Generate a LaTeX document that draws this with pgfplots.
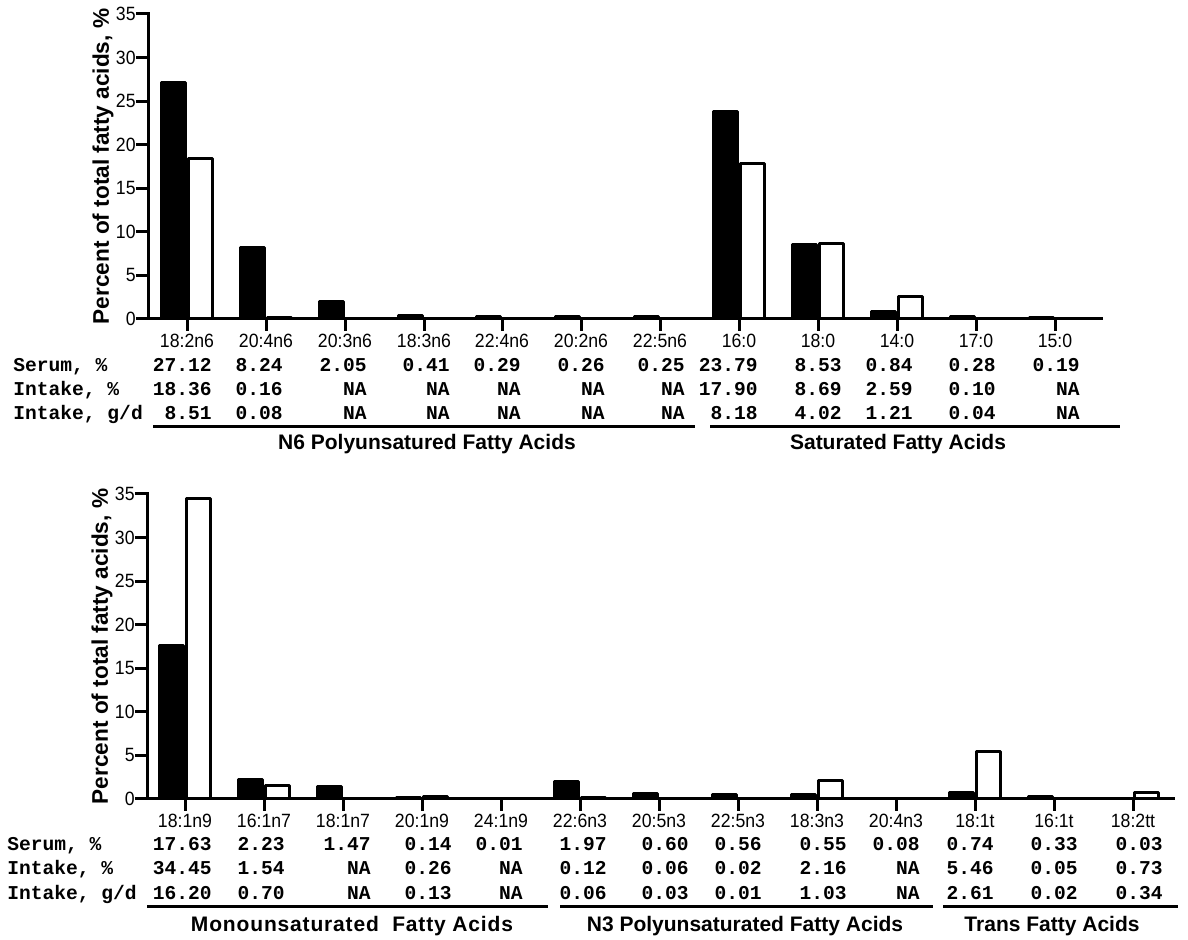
\documentclass[border=0pt]{standalone}
\usepackage{pgfplots}
\pgfplotsset{compat=1.18}
\usepackage{pgfplotstable}
\usepackage{fontspec}
\setmainfont{Liberation Sans}
\newfontfamily\tickfont[FakeStretch=0.92]{Liberation Sans}
\newfontfamily\tabfont{Liberation Mono}
\newfontfamily\spacedfont[LetterSpace=4]{Liberation Sans}

% x = tick position (px), serum %, intake %
\pgfplotstableread{
x serum intake
187 27.12 18.36
266 8.24 0.16
345 2.05 nan
424 0.41 nan
502 0.29 nan
581 0.26 nan
660 0.25 nan
739 23.79 17.90
818 8.53 8.69
897 0.84 2.59
976 0.28 0.10
1055 0.19 nan
}\topdata

\pgfplotstableread{
x serum intake
185 17.63 34.45
264 2.23 1.54
343 1.47 nan
422 0.14 0.26
501 0.01 nan
580 1.97 0.12
659 0.60 0.06
738 0.56 0.02
817 0.55 2.16
896 0.08 nan
975 0.74 5.46
1054 0.33 0.05
1133 0.03 0.73
}\botdata

\pgfplotsset{
  fabar/.style={
    x=0.5pt, y=4.357pt,
    ymin=0, ymax=35,
    enlargelimits=false,
    axis x line*=bottom, axis y line*=left,
    axis line style={line width=1.5pt, line cap=rect},
    major tick style={line width=1.5pt, black},
    major tick length=6pt,
    tick align=outside,
    ytick={0,5,...,35},
    minor tick num=0,
    clip=false,
    axis on top,
    /pgf/number format/assume math mode=true,
    tick label style={font=\tickfont\fontsize{9.6}{10}\selectfont},
    xticklabel style={anchor=base, yshift=-8.5pt},
    yticklabel style={anchor=east, inner sep=0pt, xshift=0pt},
    ylabel={Percent of total fatty acids, \%},
    every axis y label/.style={at={(axis description cs:0,0.5)}, xshift=-22.5pt, rotate=90, anchor=center,
      font=\bfseries\fontsize{11.3}{12}\selectfont},
    anchor=south west,
  },
  serumbar/.style={ybar, bar width=24, bar shift=-13.5, fill=black, draw=black, line width=1.5pt, line join=round},
  intakebar/.style={ybar, bar width=24, bar shift=13.5, fill=white, draw=black, line width=1.5pt, line join=round},
}

\begin{document}
\begin{tikzpicture}[x=0.5pt, y=0.5pt]
\useasboundingbox (0,0) rectangle (1188,940);

% ---------------- top panel ----------------
\begin{axis}[fabar, at={(74pt,310.5pt)}, xmin=148, xmax=1101,
  xtick={187,266,345,424,502,581,660,739,818,897,976,1055},
  xticklabels={18:2n6,20:4n6,20:3n6,18:3n6,22:4n6,20:2n6,22:5n6,16:0,18:0,14:0,17:0,15:0}]
\addplot[serumbar] table[x=x, y=serum] {\topdata};
\addplot[intakebar] table[x=x, y=intake] {\topdata};
\end{axis}

% ---------------- bottom panel ----------------
\begin{axis}[fabar, at={(73.5pt,70.5pt)}, xmin=147, xmax=1173,
  xtick={185,264,343,422,501,580,659,738,817,896,975,1054,1133},
  xticklabels={18:1n9,16:1n7,18:1n7,20:1n9,24:1n9,22:6n3,20:5n3,22:5n3,18:3n3,20:4n3,18:1t,16:1t,18:2tt}]
\addplot[serumbar] table[x=x, y=serum] {\botdata};
\addplot[intakebar] table[x=x, y=intake] {\botdata};
\end{axis}

\tikzset{tab/.style={inner sep=0pt, font=\tabfont\bfseries\fontsize{9.8}{10}\selectfont},
         grp/.style={inner sep=0pt, anchor=base, font=\bfseries\fontsize{10.5}{12}\selectfont}}

% ---- top table (y = 940 - pixel row) ----
\node[tab, anchor=base west] at (13,568) {Serum, \%};
\node[tab, anchor=base west] at (13,544.5) {Intake, \%};
\node[tab, anchor=base west] at (13,520) {Intake, g/d};
\foreach \x/\a/\b/\c in {212/27.12/18.36/8.51, 283/8.24/0.16/0.08, 367/2.05/NA/NA, 450/0.41/NA/NA,
  521/0.29/NA/NA, 605/0.26/NA/NA, 685/0.25/NA/NA, 758/23.79/17.90/8.18, 842/8.53/8.69/4.02,
  913/0.84/2.59/1.21, 996/0.28/0.10/0.04, 1080/0.19/NA/NA}{
  \node[tab, anchor=base east] at (\x,568) {\a};
  \node[tab, anchor=base east] at (\x,544.5) {\b};
  \node[tab, anchor=base east] at (\x,520) {\c};
}
\draw[line width=1.5pt] (153,513) -- (695,513);
\draw[line width=1.5pt] (710,513) -- (1120,513);
\node[grp] at (427,490) {N6 Polyunsatured Fatty Acids};
\node[grp] at (898,490) {Saturated Fatty Acids};

% ---- bottom table ----
\node[tab, anchor=base west] at (7,89) {Serum, \%};
\node[tab, anchor=base west] at (7,65) {Intake, \%};
\node[tab, anchor=base west] at (7,40) {Intake, g/d};
\foreach \x/\a/\b/\c in {212/17.63/34.45/16.20, 285/2.23/1.54/0.70, 371/1.47/NA/NA, 452/0.14/0.26/0.13,
  523/0.01/NA/NA, 607/1.97/0.12/0.06, 689/0.60/0.06/0.03, 762/0.56/0.02/0.01, 847/0.55/2.16/1.03,
  920/0.08/NA/NA, 994/0.74/5.46/2.61, 1078/0.33/0.05/0.02, 1163/0.03/0.73/0.34}{
  \node[tab, anchor=base east] at (\x,89) {\a};
  \node[tab, anchor=base east] at (\x,65) {\b};
  \node[tab, anchor=base east] at (\x,40) {\c};
}
\draw[line width=1.5pt] (147,33) -- (548,33);
\draw[line width=1.5pt] (560,33) -- (933,33);
\draw[line width=1.5pt] (943,33) -- (1178,33);
\node[grp, font=\spacedfont\bfseries\fontsize{10.5}{12}\selectfont] at (352,8) {Monounsaturated\ \ Fatty Acids};
\node[grp] at (745,8) {N3 Polyunsaturated Fatty Acids};
\node[grp] at (1052,8) {Trans Fatty Acids};
\end{tikzpicture}
\end{document}
